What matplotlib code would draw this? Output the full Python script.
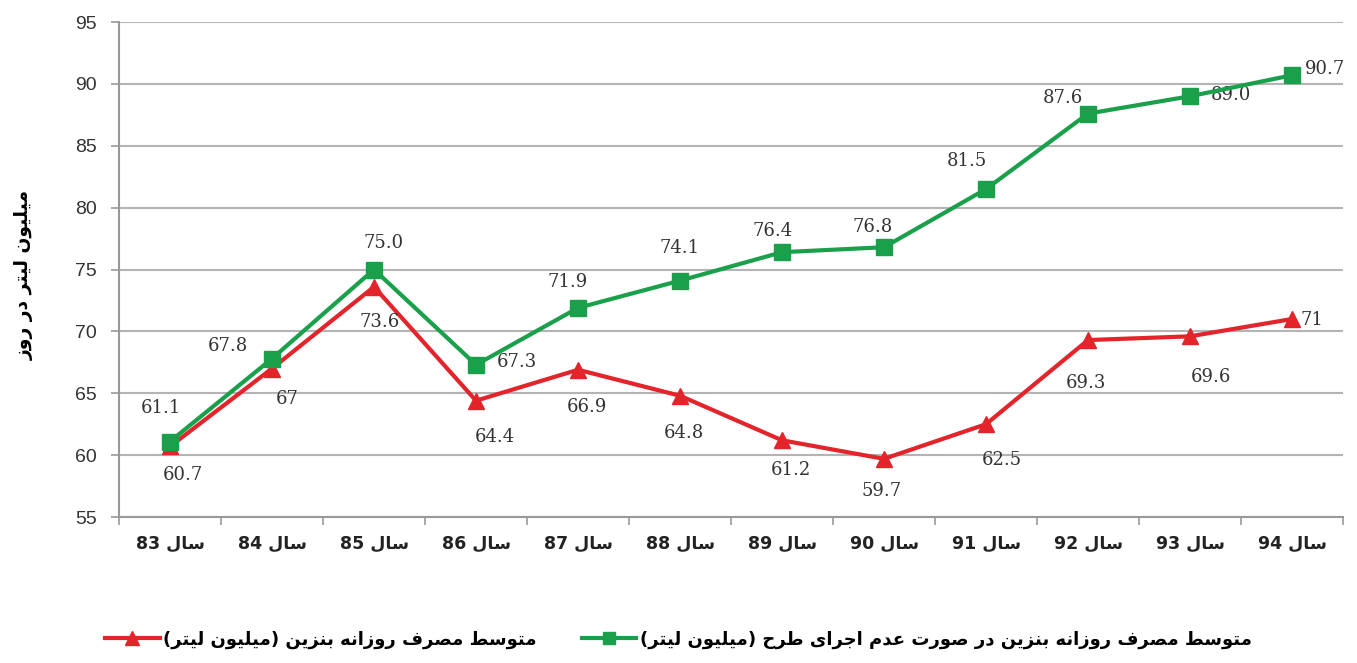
import matplotlib
matplotlib.use("Agg")
import matplotlib.pyplot as plt
from matplotlib.lines import Line2D

# شکل‌دهی ساده حروف فارسی (matplotlib خودش اتصال حروف را انجام نمی‌دهد)
FORMS = {
    '\u0627': ('\uFE8D', '\uFE8E', None, None),
    '\u0628': ('\uFE8F', '\uFE90', '\uFE91', '\uFE92'),
    '\u062A': ('\uFE95', '\uFE96', '\uFE97', '\uFE98'),
    '\u062C': ('\uFE9D', '\uFE9E', '\uFE9F', '\uFEA0'),
    '\u062D': ('\uFEA1', '\uFEA2', '\uFEA3', '\uFEA4'),
    '\u062F': ('\uFEA9', '\uFEAA', None, None),
    '\u0631': ('\uFEAD', '\uFEAE', None, None),
    '\u0632': ('\uFEAF', '\uFEB0', None, None),
    '\u0633': ('\uFEB1', '\uFEB2', '\uFEB3', '\uFEB4'),
    '\u0635': ('\uFEB9', '\uFEBA', '\uFEBB', '\uFEBC'),
    '\u0637': ('\uFEC1', '\uFEC2', '\uFEC3', '\uFEC4'),
    '\u0639': ('\uFEC9', '\uFECA', '\uFECB', '\uFECC'),
    '\u0641': ('\uFED1', '\uFED2', '\uFED3', '\uFED4'),
    '\u0644': ('\uFEDD', '\uFEDE', '\uFEDF', '\uFEE0'),
    '\u0645': ('\uFEE1', '\uFEE2', '\uFEE3', '\uFEE4'),
    '\u0646': ('\uFEE5', '\uFEE6', '\uFEE7', '\uFEE8'),
    '\u0647': ('\uFEE9', '\uFEEA', '\uFEEB', '\uFEEC'),
    '\u0648': ('\uFEED', '\uFEEE', None, None),
    '\u06CC': ('\uFBFC', '\uFBFD', '\uFBFE', '\uFBFF'),
}
MIRROR = {'(': ')', ')': '('}


def fa(text):
    out = []
    for i, c in enumerate(text):
        if c not in FORMS:
            out.append(c)
            continue
        prev = text[i - 1] if i > 0 else ''
        nxt = text[i + 1] if i + 1 < len(text) else ''
        joins_prev = prev in FORMS and FORMS[prev][2] is not None
        joins_next = nxt in FORMS and FORMS[c][2] is not None
        iso, fin, ini, med = FORMS[c]
        if joins_prev and joins_next:
            out.append(med)
        elif joins_prev:
            out.append(fin)
        elif joins_next:
            out.append(ini)
        else:
            out.append(iso)
    s = ''.join(MIRROR.get(c, c) for c in reversed(out))
    # اعداد را دوباره چپ به راست کن
    res, run = '', ''
    for c in s:
        if c.isdigit() or c == '.':
            run += c
        else:
            res += run[::-1] + c
            run = ''
    return res + run[::-1]


# داده‌ها
years = ['83', '84', '85', '86', '87', '88', '89', '90', '91', '92', '93', '94']
no_plan = [61.1, 67.8, 75.0, 67.3, 71.9, 74.1, 76.4, 76.8, 81.5, 87.6, 89.0, 90.7]
actual = [60.7, 67, 73.6, 64.4, 66.9, 64.8, 61.2, 59.7, 62.5, 69.3, 69.6, 71]
no_plan_txt = ['61.1', '67.8', '75.0', '67.3', '71.9', '74.1', '76.4', '76.8', '81.5', '87.6', '89.0', '90.7']
actual_txt = ['60.7', '67', '73.6', '64.4', '66.9', '64.8', '61.2', '59.7', '62.5', '69.3', '69.6', '71']

label_green = 'متوسط مصرف روزانه بنزین در صورت عدم اجرای طرح (میلیون لیتر)'
label_red = 'متوسط مصرف روزانه بنزین (میلیون لیتر)'
ylabel = 'میلیون لیتر در روز'

# جای برچسب‌ها (پیکسل)
off_green = [(-9, 34), (-44, 13), (10, 27), (41, 3), (-10, 26), (0, 33), (-9, 21), (-11, 20),
             (-19, 28), (-25, 16), (41, 1), (33, 6)]
off_red = [(13, -29), (15, -30), (6, -35), (19, -36), (9, -37), (4, -37), (9, -30), (-2, -32),
           (16, -36), (-2, -43), (21, -41), (20, -1)]

green = '#1aa04a'
red = '#e3242b'

fig = plt.figure(figsize=(13.57, 6.63), dpi=100)
ax = fig.add_axes([0.0877, 0.2202, 0.9020, 0.7466])

x = list(range(len(years)))
ax.plot(x, actual, color=red, lw=3, marker='^', ms=12, zorder=3)
ax.plot(x, no_plan, color=green, lw=3, marker='s', ms=11, zorder=4)

for i in x:
    ax.annotate(no_plan_txt[i], (i, no_plan[i]), xytext=off_green[i], textcoords='offset pixels',
                ha='center', va='center', fontsize=13, family='DejaVu Serif', color='#333333')
    ax.annotate(actual_txt[i], (i, actual[i]), xytext=off_red[i], textcoords='offset pixels',
                ha='center', va='center', fontsize=13, family='DejaVu Serif', color='#333333')

ax.set_xlim(-0.5, 11.5)
ax.set_ylim(55, 95)
ax.set_yticks(range(55, 96, 5))
ax.yaxis.grid(True, color='#b4b4b4', lw=1.5)
ax.set_axisbelow(True)
ax.set_xticks(x)
ax.set_xticklabels([fa('سال ' + y) for y in years], fontsize=12.5, fontweight='bold',
                   family='DejaVu Sans', color='#222222')
ax.set_xticks([i - 0.5 for i in range(13)], minor=True)
ax.tick_params(axis='x', which='major', length=0, pad=13)
ax.tick_params(axis='x', which='minor', length=6, color='#999999', width=1.2)
ax.tick_params(axis='y', length=6, color='#999999', width=1.2, labelsize=14, labelcolor='#333333', pad=10)
for lab in ax.get_yticklabels():
    lab.set_family('Liberation Sans')

for s in ['top', 'right']:
    ax.spines[s].set_visible(False)
for s in ['left', 'bottom']:
    ax.spines[s].set_color('#999999')
    ax.spines[s].set_linewidth(1.5)

fig.text(0.018, 0.585, fa(ylabel), rotation=90, ha='center', va='center',
         fontsize=13.5, fontweight='bold', family='DejaVu Sans')

handles = [Line2D([], [], color=red, lw=3, marker='^', ms=10),
           Line2D([], [], color=green, lw=3, marker='s', ms=9)]
fig.legend(handles, [fa(label_red), fa(label_green)], loc='center', bbox_to_anchor=(0.5, 0.035),
           ncol=2, frameon=False, handlelength=3, handletextpad=0.2, columnspacing=2.5,
           prop={'family': 'DejaVu Sans', 'weight': 'bold', 'size': 13})

fig.savefig('out.png', dpi=100)
